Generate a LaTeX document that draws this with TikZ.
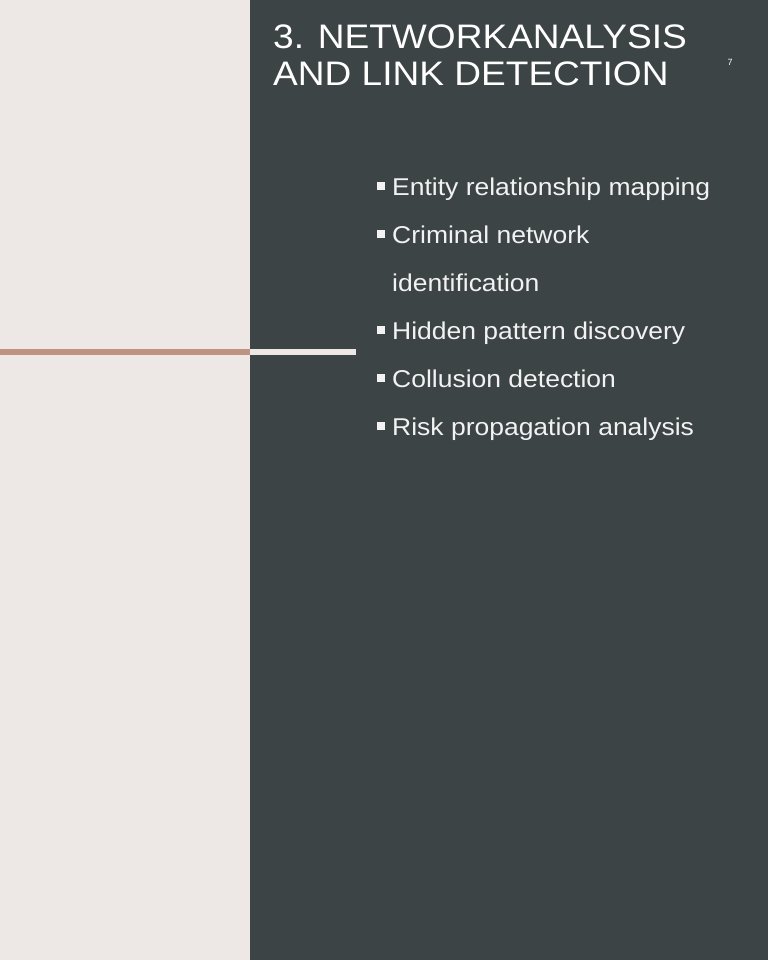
\documentclass[tikz,border=0pt]{standalone}
\usepackage{fontspec}
\setmainfont{Liberation Sans}
\newfontfamily\widesans[FakeStretch=1.09]{Liberation Sans}
\definecolor{leftbg}{HTML}{EDE8E5}
\definecolor{darkbg}{HTML}{3C4446}
\definecolor{tanline}{HTML}{BF9381}
\definecolor{lightline}{HTML}{EDE8E5}
\definecolor{txt}{HTML}{F2F2F2}
\begin{document}
\begin{tikzpicture}[x=1pt,y=-1pt,
  titletext/.style={anchor=base west,inner sep=0pt,text=white,font=\widesans\fontsize{34}{40}\selectfont},
  itemtext/.style={anchor=base west,inner sep=0pt,text=txt,font=\widesans\fontsize{24.3}{28}\selectfont},
  sq/.style={fill=txt,draw=none,minimum size=7.5pt,inner sep=0pt}]
\useasboundingbox (0,0) rectangle (768,960);
\fill[leftbg] (0,0) rectangle (250,960);
\fill[darkbg] (250,0) rectangle (768,960);
\fill[tanline] (0,349) rectangle (250,355);
\fill[lightline] (250,349) rectangle (356,355);
\node[titletext] (t1) at (273,49) {3. NETWORK\hspace{1pt}ANALYSIS};
\node[titletext] (t2) at (273,86) {AND LINK DETECTION};
\node[anchor=base,inner sep=0pt,text=white,font=\fontsize{9}{10}\selectfont] (pg) at (730,66) {7};
\node[itemtext] (i1) at (392,195.5) {Entity relationship mapping};
\node[itemtext] (i2) at (392,243.5) {Criminal network};
\node[itemtext] (i2b) at (392,291.5) {identification};
\node[itemtext] (i3) at (392,339.5) {Hidden pattern discovery};
\node[itemtext] (i4) at (392,387.5) {Collusion detection};
\node[itemtext] (i5) at (392,435.5) {Risk propagation analysis};
\node[sq] (b1) at (380.8,185.8) {};
\node[sq] (b2) at (380.8,233.8) {};
\node[sq] (b3) at (380.8,329.8) {};
\node[sq] (b4) at (380.8,377.8) {};
\node[sq] (b5) at (380.8,425.8) {};
\end{tikzpicture}
\end{document}
